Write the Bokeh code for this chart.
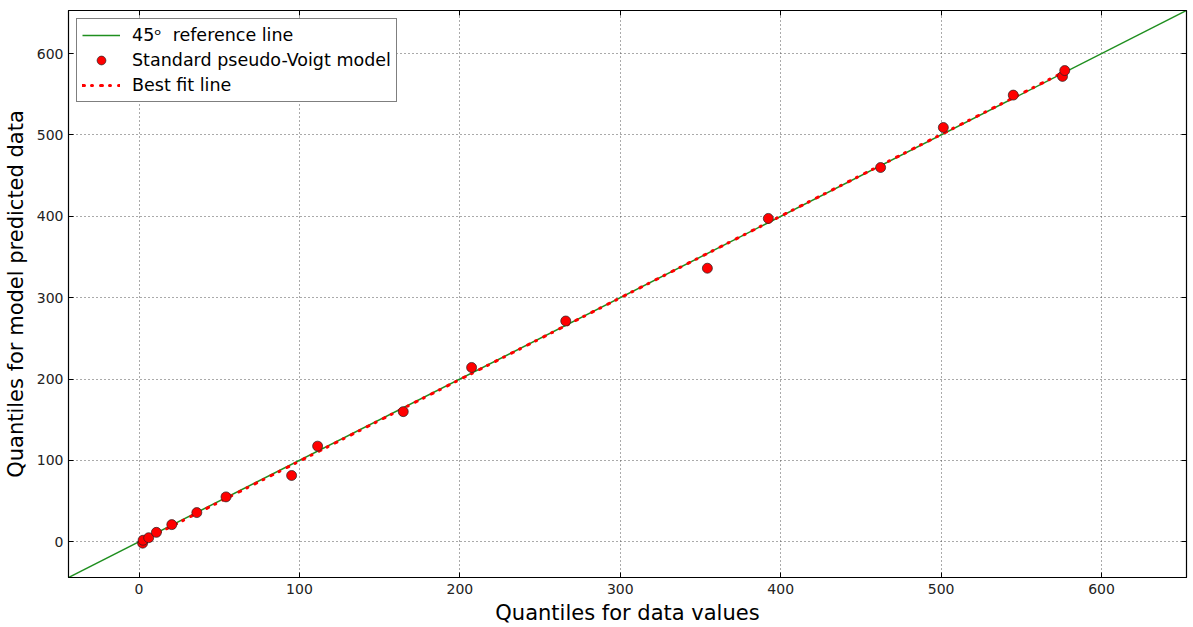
import numpy as np
from bokeh.plotting import figure
from bokeh.models import (Range1d, LinearAxis, Legend, LegendItem, FixedTicker,
                          CustomJSTickFormatter)
from bokeh.embed import file_html
from bokeh.resources import INLINE

# Quantile pairs: data quantiles vs. model-predicted quantiles
data_quantiles = [2.2, 2.5, 6.0, 10.8, 20.4, 36.0, 54.2, 95.1, 111.3, 164.7, 207.3,
                  266.0, 354.3, 392.3, 462.3, 501.4, 545.0, 575.7, 577.1]
model_quantiles = [-1.8, 1.8, 4.9, 11.5, 21.0, 35.8, 55.1, 81.4, 117.5, 159.9, 214.2,
                   271.3, 336.2, 397.4, 460.0, 509.2, 549.0, 572.0, 579.2]

axis_limits = [-44, 653]
ref_line_span = [-60, 670]
tick_values = [0, 100, 200, 300, 400, 500, 600]

FONT = "DejaVu Sans"

p = figure(width=1193, height=627, output_backend="svg", toolbar_location=None,
           x_range=Range1d(*axis_limits), y_range=Range1d(*axis_limits),
           frame_width=1118, frame_height=567,
           min_border_left=60, min_border_right=4, min_border_top=10, min_border_bottom=50)
p.background_fill_color = "white"
p.border_fill_color = "white"
p.outline_line_color = "black"
p.outline_line_width = 1.2

# 45 degree reference line
ref = p.line(ref_line_span, ref_line_span, line_color="#1f8f1f", line_width=1.5)

# Least-squares best fit through the quantile pairs
slope, intercept = np.polyfit(data_quantiles, model_quantiles, 1)
fit_x = [min(data_quantiles), max(data_quantiles)]
fit_y = [slope * v + intercept for v in fit_x]
fit = p.line(fit_x, fit_y, line_color="red", line_width=3, line_cap="round",
             line_dash="2 7 1 8")

pts = p.scatter(data_quantiles, model_quantiles, size=10, fill_color="red",
                line_color="#222222", line_width=0.7)

# Axes styling (ticks inside, classic look)
for ax in (p.xaxis[0], p.yaxis[0]):
    ax.ticker = FixedTicker(ticks=tick_values)
    ax.major_tick_in = 5
    ax.major_tick_out = 0
    ax.minor_tick_line_color = None
    ax.axis_line_color = "black"
    ax.major_label_text_font = FONT
    ax.major_label_text_font_size = "14px"
    ax.major_label_text_color = "#222222"
    ax.axis_label_text_font = FONT
    ax.axis_label_text_font_size = "21px"
    ax.axis_label_text_font_style = "normal"
    ax.axis_label_text_color = "black"

p.xaxis[0].axis_label = "Quantiles for data values"
p.yaxis[0].axis_label = "Quantiles for model predicted data"
p.xaxis[0].axis_label_standoff = 4
p.yaxis[0].axis_label_standoff = 6
p.xaxis[0].major_label_standoff = 6
p.yaxis[0].major_label_standoff = 5

# Tick marks only on the top and right edges
for loc in ("above", "right"):
    ax = LinearAxis(ticker=FixedTicker(ticks=tick_values), major_tick_in=5, major_tick_out=0,
                    minor_tick_line_color=None, axis_line_color="black",
                    formatter=CustomJSTickFormatter(code="return ''"),
                    major_label_standoff=0)
    p.add_layout(ax, loc)

p.xgrid.ticker = FixedTicker(ticks=tick_values)
p.ygrid.ticker = FixedTicker(ticks=tick_values)
p.grid.grid_line_color = "#555555"
p.grid.grid_line_dash = "1 3"
p.grid.grid_line_width = 1

legend = Legend(items=[
    LegendItem(label="45ᵒ  reference line", renderers=[ref]),
    LegendItem(label="Standard pseudo-Voigt model", renderers=[pts]),
    LegendItem(label="Best fit line", renderers=[fit]),
], location="top_left")
legend.label_text_font = FONT
legend.label_text_font_size = "17.5px"
legend.label_text_color = "black"
legend.border_line_color = "black"
legend.border_line_width = 1
legend.background_fill_alpha = 1
legend.glyph_width = 38
legend.glyph_height = 22
legend.spacing = 3
legend.padding = 5
legend.margin = 8
legend.label_standoff = 12
p.add_layout(legend)

open("out.html", "w").write(file_html(p, INLINE))
